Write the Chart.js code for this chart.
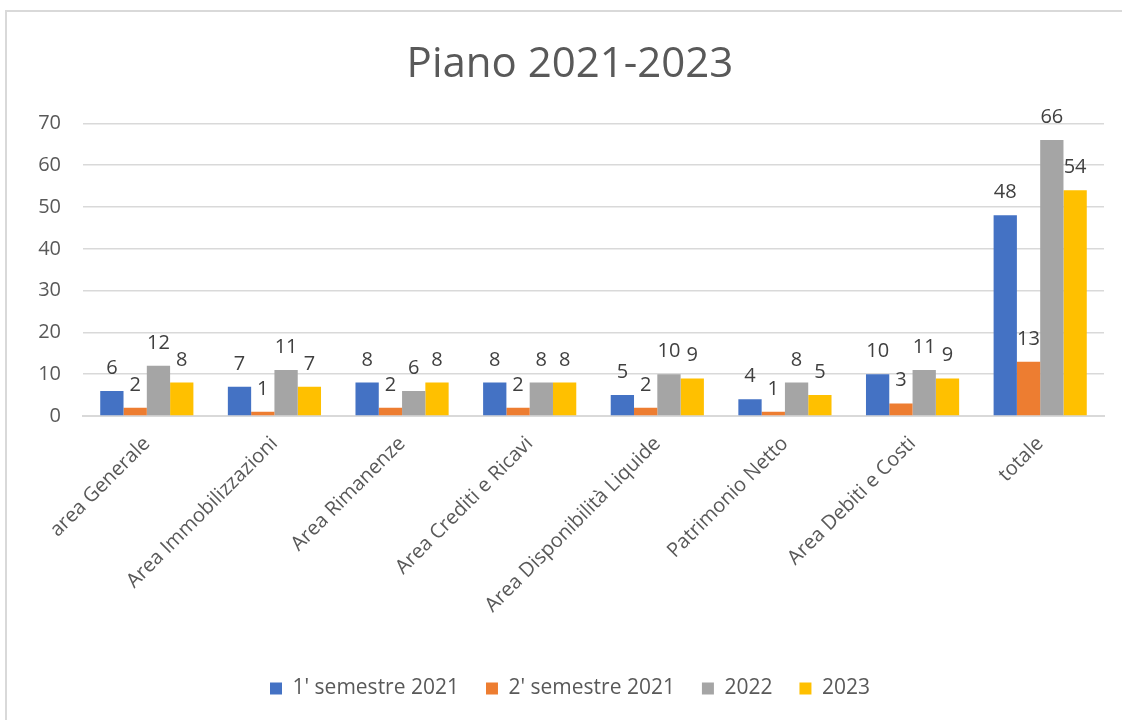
<!DOCTYPE html>
<html>
<head>
<meta charset="utf-8">
<script src="https://cdn.jsdelivr.net/npm/chart.js@4"></script>
<style>
  html, body { margin: 0; padding: 0; background: #fff; overflow: hidden; }
  #cornice { position: absolute; left: 5px; top: 10px; width: 1200px; height: 800px; border: 2px solid #d9d9d9; box-sizing: border-box; }
  #box { position: absolute; left: 0; top: 0; width: 1122px; height: 720px; }
</style>
</head>
<body>
<div id="cornice"></div>
<div id="box"><canvas id="grafico"></canvas></div>
<script>
const categorie = [
  "area Generale",
  "Area Immobilizzazioni",
  "Area Rimanenze",
  "Area Crediti e Ricavi",
  "Area Disponibilità Liquide",
  "Patrimonio Netto",
  "Area Debiti e Costi",
  "totale",
];
const semestre1_2021 = [6, 7, 8, 8, 5, 4, 10, 48];
const semestre2_2021 = [2, 1, 2, 2, 2, 1, 3, 13];
const anno2022 = [12, 11, 6, 8, 10, 8, 11, 66];
const anno2023 = [8, 7, 8, 8, 9, 5, 9, 54];
const tickY = [0, 10, 20, 30, 40, 50, 60, 70];

const font = "'Open Sans', 'DejaVu Sans', sans-serif";

// etichette sopra le barre
const etichette = {
  id: "etichette",
  afterDatasetsDraw(chart) {
    const ctx = chart.ctx;
    ctx.save();
    ctx.font = "20px " + font;
    ctx.fillStyle = "#404040";
    ctx.textAlign = "center";
    ctx.textBaseline = "alphabetic";
    chart.data.datasets.forEach((ds, i) => {
      chart.getDatasetMeta(i).data.forEach((bar, j) => {
        ctx.fillText(String(ds.data[j]), bar.x, bar.y - 17);
      });
    });
    ctx.restore();
  },
};

const grafico = new Chart(document.getElementById("grafico"), {
  type: "bar",
  data: {
    labels: categorie,
    datasets: [
      { label: "1' semestre 2021", data: semestre1_2021, backgroundColor: "#4472C4" },
      { label: "2' semestre 2021", data: semestre2_2021, backgroundColor: "#ED7D31" },
      { label: "2022", data: anno2022, backgroundColor: "#A5A5A5" },
      { label: "2023", data: anno2023, backgroundColor: "#FFC000" },
    ],
  },
  options: {
    responsive: true,
    maintainAspectRatio: false,
    animation: false,
    devicePixelRatio: 1,
    datasets: { bar: { barPercentage: 1, categoryPercentage: 0.73 } },
    layout: { padding: { left: 36, right: 18, top: 0, bottom: 11 } },
    plugins: {
      title: {
        display: true,
        text: "Piano 2021-2023",
        color: "#595959",
        font: { family: font, size: 42, weight: "normal" },
        padding: { top: 40, bottom: 33 },
      },
      legend: {
        position: "bottom",
        labels: {
          color: "#595959",
          font: { family: font, size: 21 },
          boxWidth: 12,
          boxHeight: 12,
          padding: 27,
        },
      },
      tooltip: { enabled: false },
    },
    scales: {
      x: {
        grid: { display: false },
        border: { color: "#d9d9d9", width: 2 },
        ticks: {
          color: "#595959",
          font: { family: font, size: 20 },
          minRotation: 45,
          maxRotation: 45,
          autoSkip: false,
          padding: 8,
        },
        afterFit(s) { s.height = 235; },
      },
      y: {
        min: 0,
        max: 70,
        afterBuildTicks(s) { s.ticks = tickY.map((v) => ({ value: v })); },
        grid: { color: "#d9d9d9", lineWidth: 1.5, drawTicks: false },
        border: { display: false },
        ticks: { color: "#595959", font: { family: font, size: 20 }, padding: 22 },
        afterFit(s) { s.width = 47; },
      },
    },
  },
  plugins: [etichette],
});
</script>
</body>
</html>
